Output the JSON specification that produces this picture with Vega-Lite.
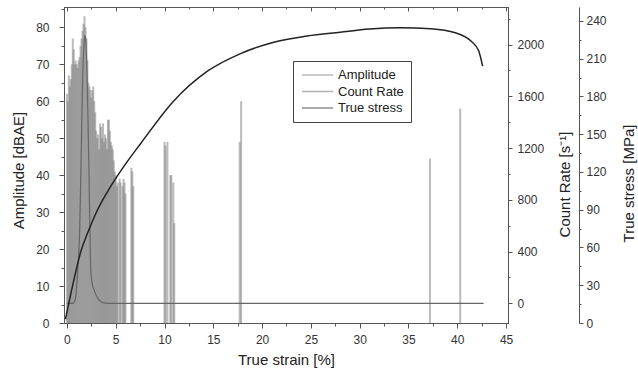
{
  "$schema": "https://vega.github.io/schema/vega-lite/v6.json",
  "width": 444,
  "height": 316,
  "autosize": {"type": "none"},
  "padding": {"left": 64, "top": 7, "right": 130, "bottom": 60},
  "background": "white",
  "config": {
    "view": {"stroke": "#555", "strokeWidth": 1},
    "font": "Liberation Sans",
    "axis": {
      "grid": false,
      "domainColor": "#555",
      "tickColor": "#555",
      "labelColor": "#333",
      "labelFont": "Liberation Sans",
      "labelFontSize": 12,
      "titleFont": "Liberation Sans",
      "titleFontSize": 15,
      "titleFontWeight": "normal",
      "titleColor": "#222",
      "labelOverlap": false,
      "labelFlush": false
    }
  },
  "datasets": {
    "amp": [
      {"s": 0.0, "a": 62}, {"s": 0.1, "a": 60}, {"s": 0.2, "a": 67}, {"s": 0.3, "a": 64}, {"s": 0.4, "a": 66},
      {"s": 0.5, "a": 70}, {"s": 0.6, "a": 77}, {"s": 0.7, "a": 74}, {"s": 0.8, "a": 70}, {"s": 0.9, "a": 71},
      {"s": 1.0, "a": 70}, {"s": 1.1, "a": 69}, {"s": 1.2, "a": 71}, {"s": 1.3, "a": 72}, {"s": 1.4, "a": 75},
      {"s": 1.5, "a": 77}, {"s": 1.6, "a": 79}, {"s": 1.7, "a": 81}, {"s": 1.8, "a": 83}, {"s": 1.9, "a": 80},
      {"s": 2.0, "a": 77}, {"s": 2.1, "a": 71}, {"s": 2.2, "a": 65}, {"s": 2.3, "a": 64}, {"s": 2.4, "a": 63},
      {"s": 2.5, "a": 61}, {"s": 2.6, "a": 63}, {"s": 2.7, "a": 64}, {"s": 2.8, "a": 60}, {"s": 2.9, "a": 57},
      {"s": 3.0, "a": 52}, {"s": 3.1, "a": 50}, {"s": 3.2, "a": 51}, {"s": 3.3, "a": 47}, {"s": 3.4, "a": 54},
      {"s": 3.5, "a": 53}, {"s": 3.6, "a": 50}, {"s": 3.7, "a": 54}, {"s": 3.8, "a": 49}, {"s": 3.9, "a": 51},
      {"s": 4.0, "a": 50}, {"s": 4.1, "a": 47}, {"s": 4.2, "a": 55}, {"s": 4.3, "a": 55}, {"s": 4.4, "a": 52},
      {"s": 4.5, "a": 49}, {"s": 4.6, "a": 48}, {"s": 4.7, "a": 47}, {"s": 4.8, "a": 44}, {"s": 4.9, "a": 41},
      {"s": 5.0, "a": 40}, {"s": 5.1, "a": 37}, {"s": 5.2, "a": 38},
      {"s": 5.4, "a": 39}, {"s": 5.5, "a": 38}, {"s": 5.7, "a": 37}, {"s": 5.8, "a": 39}, {"s": 5.9, "a": 38},
      {"s": 6.0, "a": 35}, {"s": 6.6, "a": 42}, {"s": 6.7, "a": 41}, {"s": 6.8, "a": 37},
      {"s": 10.0, "a": 49}, {"s": 10.1, "a": 48}, {"s": 10.3, "a": 49}, {"s": 10.6, "a": 40}, {"s": 10.7, "a": 40},
      {"s": 10.9, "a": 38}, {"s": 11.0, "a": 27},
      {"s": 17.7, "a": 49}, {"s": 17.85, "a": 60}, {"s": 37.2, "a": 44.5}, {"s": 40.3, "a": 58}
    ],
    "cr": [
      {"s": 0, "r": 0}, {"s": 0.6, "r": 0}, {"s": 0.85, "r": 30}, {"s": 1.1, "r": 250}, {"s": 1.3, "r": 550},
      {"s": 1.4, "r": 900}, {"s": 1.5, "r": 1300}, {"s": 1.62, "r": 1750}, {"s": 1.75, "r": 2000},
      {"s": 1.85, "r": 2070}, {"s": 1.95, "r": 2020}, {"s": 2.05, "r": 1800}, {"s": 2.15, "r": 1450},
      {"s": 2.25, "r": 1050}, {"s": 2.35, "r": 600}, {"s": 2.45, "r": 250}, {"s": 2.6, "r": 150},
      {"s": 2.8, "r": 100}, {"s": 3.0, "r": 60}, {"s": 3.3, "r": 25}, {"s": 3.7, "r": 5}, {"s": 4.2, "r": 0},
      {"s": 42.7, "r": 0}
    ],
    "st": [
      {"s": -0.15, "p": 3}, {"s": 0.68, "p": 33}, {"s": 1.36, "p": 55}, {"s": 2.2, "p": 73}, {"s": 3.08, "p": 89},
      {"s": 4.44, "p": 108}, {"s": 5.8, "p": 124}, {"s": 7.6, "p": 143}, {"s": 10.9, "p": 176},
      {"s": 14.4, "p": 200}, {"s": 17.8, "p": 214}, {"s": 21.2, "p": 223}, {"s": 24.6, "p": 228},
      {"s": 28, "p": 231}, {"s": 31, "p": 233.5}, {"s": 34.2, "p": 234.5}, {"s": 37.3, "p": 233.7},
      {"s": 39.8, "p": 230.5}, {"s": 41.4, "p": 224}, {"s": 42.2, "p": 216}, {"s": 42.6, "p": 204}
    ]
  },
  "layer": [
    {
      "data": {"name": "amp"},
      "mark": {"type": "rule", "strokeWidth": 2, "opacity": 0.5},
      "encoding": {
        "x": {
          "field": "s", "type": "quantitative",
          "scale": {"domain": [-0.3, 45.2], "nice": false, "zero": false},
          "axis": {
            "orient": "bottom",
            "title": "True strain [%]",
            "values": [0, 2.5, 5, 7.5, 10, 12.5, 15, 17.5, 20, 22.5, 25, 27.5, 30, 32.5, 35, 37.5, 40, 42.5, 45],
            "labelExpr": "datum.value % 5 === 0 ? datum.label : ''",
            "tickSize": {"condition": {"test": "datum.value % 5 === 0", "value": 5}, "value": 3},
            "labelPadding": 6,
            "titleY": 29,
            "titleBaseline": "top"
          }
        },
        "y": {
          "field": "a", "type": "quantitative",
          "scale": {"domain": [0, 85.5], "nice": false},
          "axis": {
            "orient": "left",
            "title": "Amplitude [dBAE]",
            "values": [0, 5, 10, 15, 20, 25, 30, 35, 40, 45, 50, 55, 60, 65, 70, 75, 80, 85],
            "labelExpr": "datum.value % 10 === 0 ? datum.label : ''",
            "tickSize": {"condition": {"test": "datum.value % 10 === 0", "value": 5}, "value": 3},
            "labelPadding": 10,
            "titleX": -46,
            "titleY": 163,
            "titleAngle": 270,
            "titleBaseline": "middle",
            "titleAlign": "center"
          }
        },
        "y2": {"datum": 0},
        "color": {
          "datum": "Amplitude", "type": "nominal",
          "scale": {"domain": ["Amplitude", "Count Rate", "True stress"], "range": ["#777777", "#666666", "#222222"]},
          "legend": {
            "orient": "none", "legendX": 229, "legendY": 54, "title": null, "strokeColor": "#444", "padding": 7,
            "labelFont": "Liberation Sans", "labelFontSize": 13, "labelColor": "#222",
            "symbolSize": 144, "symbolOffset": 10.6, "labelOffset": 13.4, "rowPadding": 2.5,
            "symbolType": "M-2.6,0H2.6",
            "encode": {
              "symbols": {
                "shape": {"value": "M-2.6,-0.85H2.6V0.85H-2.6Z"},
                "fill": {"condition": {"test": "datum.value === 'Amplitude'", "value": "#aaaaaa"}, "value": "transparent"},
                "opacity": {"value": 1},
                "strokeWidth": {"value": 1.2}
              }
            }
          }
        }
      }
    },
    {
      "data": {"name": "cr"},
      "mark": {"type": "line", "interpolate": "monotone", "strokeWidth": 1.2},
      "encoding": {
        "x": {
          "field": "s", "type": "quantitative",
          "axis": {
            "orient": "top",
            "title": null,
            "labels": false,
            "values": [0, 2.5, 5, 7.5, 10, 12.5, 15, 17.5, 20, 22.5, 25, 27.5, 30, 32.5, 35, 37.5, 40, 42.5, 45],
            "tickSize": {"condition": {"test": "datum.value % 5 === 0", "value": -4}, "value": -2}
          }
        },
        "y": {
          "field": "r", "type": "quantitative",
          "scale": {"domain": [-152, 2290], "nice": false, "zero": false},
          "axis": {
            "orient": "right",
            "title": "Count Rate [s⁻¹]",
            "values": [0, 200, 400, 600, 800, 1000, 1200, 1400, 1600, 1800, 2000, 2200],
            "labelExpr": "datum.value % 400 === 0 ? datum.label : ''",
            "format": "d",
            "tickSize": {"condition": {"test": "datum.value % 400 === 0", "value": 4}, "value": 2},
            "labelPadding": 5,
            "titleX": 56,
            "titleY": 177,
            "titleAngle": 270,
            "titleBaseline": "middle",
            "titleAlign": "center"
          }
        },
        "color": {"datum": "Count Rate", "type": "nominal", "legend": null}
      }
    },
    {
      "data": {"name": "st"},
      "mark": {"type": "line", "interpolate": "monotone", "strokeWidth": 1.5},
      "encoding": {
        "x": {"field": "s", "type": "quantitative", "axis": null},
        "y": {
          "field": "p", "type": "quantitative",
          "scale": {"domain": [0, 251], "nice": false},
          "axis": {
            "orient": "right",
            "offset": 71,
            "title": "True stress [MPa]",
            "values": [0, 15, 30, 45, 60, 75, 90, 105, 120, 135, 150, 165, 180, 195, 210, 225, 240],
            "labelExpr": "datum.value % 30 === 0 ? datum.label : ''",
            "tickSize": {"condition": {"test": "datum.value % 30 === 0", "value": 4}, "value": 2},
            "labelPadding": 3,
            "titleX": 49,
            "titleY": 176,
            "titleAngle": 270,
            "titleBaseline": "middle",
            "titleAlign": "center"
          }
        },
        "color": {"datum": "True stress", "type": "nominal", "legend": null}
      }
    }
  ],
  "resolve": {
    "scale": {"y": "independent"},
    "axis": {"y": "independent", "x": "independent"}
  }
}
